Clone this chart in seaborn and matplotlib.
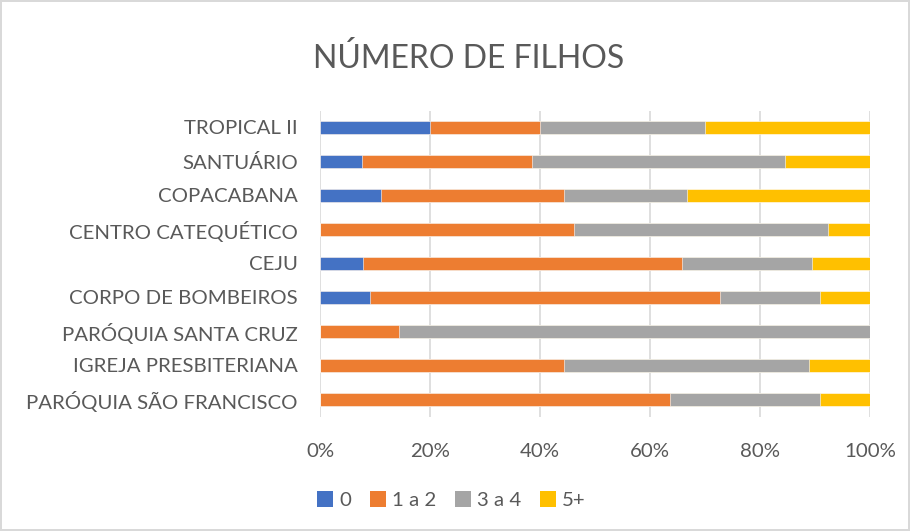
import numpy as np
import pandas as pd
import matplotlib
matplotlib.use("Agg")
import matplotlib.pyplot as plt
from matplotlib.patches import Patch
import seaborn as sns

# data (shares per location)
locais = ["TROPICAL II", "SANTUÁRIO", "COPACABANA", "CENTRO CATEQUÉTICO", "CEJU",
          "CORPO DE BOMBEIROS", "PARÓQUIA SANTA CRUZ", "IGREJA PRESBITERIANA",
          "PARÓQUIA SÃO FRANCISCO"]
series = ["0", "1 a 2", "3 a 4", "5+"]
zero = [20.0, 7.7, 11.1, 0.0, 7.9, 9.1, 0.0, 0.0, 0.0]
um_dois = [20.0, 30.8, 33.3, 46.2, 57.9, 63.6, 14.3, 44.4, 63.6]
tres_quatro = [30.0, 46.2, 22.2, 46.2, 23.7, 18.2, 85.7, 44.4, 27.3]
cinco_mais = [30.0, 15.4, 33.3, 7.7, 10.5, 9.1, 0.0, 11.1, 9.1]
cores = ["#4472C4", "#ED7D31", "#A5A5A5", "#FFC000"]

df = pd.DataFrame({"local": locais, "0": zero, "1 a 2": um_dois,
                   "3 a 4": tres_quatro, "5+": cinco_mais})
vals = df[series].to_numpy()
vals = vals / vals.sum(axis=1, keepdims=True) * 100
cum = np.cumsum(vals, axis=1)

sns.set_style("white")
plt.rcParams["font.family"] = ["Lato", "DejaVu Sans"]

fig = plt.figure(figsize=(9.10, 5.31), dpi=100)
fig.patch.set_edgecolor("#D9D9D9")
fig.patch.set_linewidth(1.5)
ax = fig.add_axes([320 / 910, 1 - 416.5 / 531, 550 / 910, 306 / 531])

# stacked bars: draw cumulative totals from the last series back to the first
for i in range(len(series) - 1, -1, -1):
    sns.barplot(x=cum[:, i], y=locais, color=cores[i], saturation=1, orient="h",
                width=0.38, edgecolor="white", linewidth=0.4, ax=ax, zorder=3)

ax.set_xlim(0, 100)
ax.set_xticks([0, 20, 40, 60, 80, 100])
ax.set_xticklabels(["0%", "20%", "40%", "60%", "80%", "100%"])
ax.grid(axis="x", color="#D9D9D9", linewidth=1.2, zorder=0)
ax.set_axisbelow(True)
for s in ax.spines.values():
    s.set_visible(False)
ax.set_xlabel("")
ax.set_ylabel("")
ax.tick_params(axis="both", length=0, labelsize=14.7, colors="#595959")
ax.tick_params(axis="x", pad=19)
ax.tick_params(axis="y", pad=16)

fig.text(0.515, 0.889, "NÚMERO DE FILHOS", ha="center", va="center",
         fontsize=23, color="#595959")

handles = [Patch(facecolor=c, edgecolor="none") for c in cores]
fig.legend(handles, series, loc="center", bbox_to_anchor=(0.496, 0.058), ncol=4,
           frameon=False, fontsize=14.7, handlelength=0.8, handleheight=0.8,
           handletextpad=0.3, columnspacing=0.9, labelcolor="#595959")

fig.savefig("out.png", dpi=100)
